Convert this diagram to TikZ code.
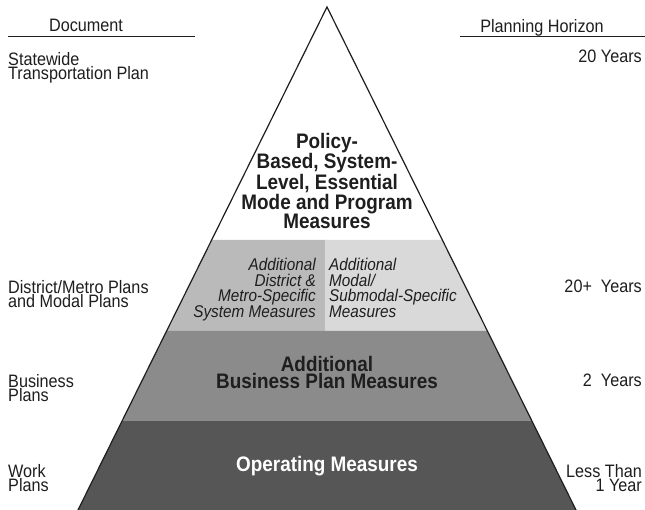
\documentclass[tikz,border=0pt]{standalone}
\usepackage{fontspec}
\setmainfont{Liberation Sans}[FakeStretch=0.9]
\usepackage{tikz}
\usetikzlibrary{calc, positioning}
\definecolor{ink}{HTML}{1e1e1e}
\definecolor{tierlight}{HTML}{d9d9d9}
\definecolor{tiermid}{HTML}{bababa}
\definecolor{tierbiz}{HTML}{8b8b8b}
\definecolor{tierop}{HTML}{565656}

\begin{document}
\begin{tikzpicture}[x=1pt, y=-1pt]
  \tikzstyle{lbl}=[inner sep=0pt, font=\fontsize{18}{14.5}\selectfont, text=ink]
  \tikzstyle{tier}=[inner sep=0pt, align=center, text=ink,
                    font=\fontsize{21}{17.5}\selectfont\bfseries]
  \tikzstyle{sub}=[inner sep=0pt, text=ink,
                   font=\fontsize{17}{15.5}\selectfont\itshape]
  \tikzstyle{rule}=[line width=1pt, ink]

  \fill[white] (0,0) rectangle (645,510);
  \useasboundingbox (0,0) rectangle (645,510);

  % pyramid corners and band edges
  \coordinate (apex) at (327,7);
  \coordinate (bl) at (78,510);
  \coordinate (br) at (576,510);
  \coordinate (l1) at ($(apex)!0.4632!(bl)$);
  \coordinate (r1) at ($(apex)!0.4632!(br)$);
  \coordinate (l2) at ($(apex)!0.6441!(bl)$);
  \coordinate (r2) at ($(apex)!0.6441!(br)$);
  \coordinate (l3) at ($(apex)!0.8231!(bl)$);
  \coordinate (r3) at ($(apex)!0.8231!(br)$);

  \fill[tiermid] (l1) -- (325,240) -- (325,331) -- (l2) -- cycle;
  \fill[tierlight] (325,240) -- (r1) -- (r2) -- (325,331) -- cycle;
  \fill[tierbiz] (l2) -- (r2) -- (r3) -- (l3) -- cycle;
  \fill[tierop] (l3) -- (r3) -- (br) -- (bl) -- cycle;
  \draw[line width=1.2pt, ink] (bl) -- (apex) -- (br);

  % column headings
  \node[lbl, anchor=north] (doc) at (86,19) {Document};
  \node[lbl, anchor=north] (hor) at (542,19) {Planning Horizon};
  \draw[rule] (8,37) -- (195,37);
  \draw[rule] (460,37) -- (645,37);

  % documents
  \node[lbl, anchor=north west, align=left] (swp) at (8,52) {Statewide\\Transportation Plan};
  \node[lbl, anchor=north west, align=left] (dmp) at (8,280) {District/Metro Plans\\and Modal Plans};
  \node[lbl, anchor=north west, align=left] (bp) at (8,374) {Business\\Plans};
  \node[lbl, anchor=north west, align=left] (wp) at (8,464) {Work\\Plans};

  % horizons
  \node[lbl, anchor=north east] (h20) at (642,50) {20 Years};
  \node[lbl, anchor=north east] (h20p) at (642,280) {20+\ \ Years};
  \node[lbl, anchor=north east] (h2) at (642,374) {2\ \ Years};
  \node[lbl, anchor=north east, align=right] (h1) at (642,464) {Less Than\\1 Year};

  % measures
  \node[tier, anchor=north] (pol) at (327,133) {Policy-\\Based, System-\\Level, Essential\\Mode and Program\\Measures};
  \node[sub, anchor=north east, align=right] (dist) at (316,258) {Additional\\District \&\\Metro-Specific\\System Measures};
  \node[sub, anchor=north west, align=left] (modal) at (329,258) {Additional\\Modal/\\Submodal-Specific\\Measures};
  \node[tier, anchor=north] (biz) at (327,356) {Additional\\Business Plan Measures};
  \node[tier, anchor=north, text=white] (ops) at (327,456) {Operating Measures};
\end{tikzpicture}
\end{document}
